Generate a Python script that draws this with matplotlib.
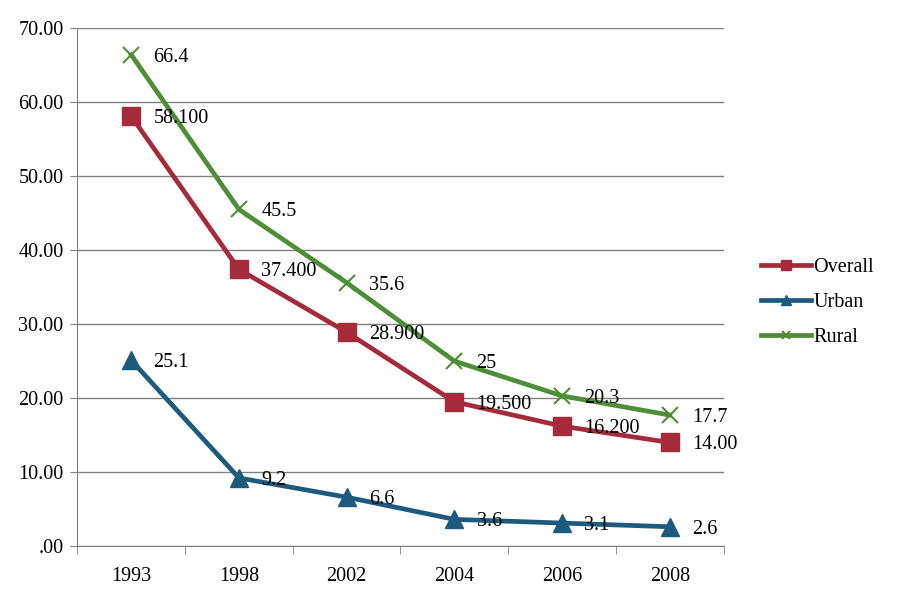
import matplotlib.pyplot as plt

# values
years = ['1993', '1998', '2002', '2004', '2006', '2008']
overall = [58.1, 37.4, 28.9, 19.5, 16.2, 14.0]
urban = [25.1, 9.2, 6.6, 3.6, 3.1, 2.6]
rural = [66.4, 45.5, 35.6, 25.0, 20.3, 17.7]

overall_lbl = ['58.100', '37.400', '28.900', '19.500', '16.200', '14.00']
urban_lbl = ['25.1', '9.2', '6.6', '3.6', '3.1', '2.6']
rural_lbl = ['66.4', '45.5', '35.6', '25', '20.3', '17.7']

plt.rcParams['font.family'] = ['Liberation Serif', 'DejaVu Serif']
FS = 14.5

fig = plt.figure(figsize=(9, 6), dpi=100)
ax = fig.add_axes([0.086, 0.09, 0.718, 0.863])

x = [i + 0.5 for i in range(len(years))]

series = [
    ('Overall', overall, overall_lbl, '#A62B3A', 's', 13),
    ('Urban', urban, urban_lbl, '#1C5B7E', '^', 13),
    ('Rural', rural, rural_lbl, '#4E8E36', 'x', 12),
]
for name, vals, lbls, col, mk, ms in series:
    ax.plot(x, vals, color=col, lw=3.4, marker=mk, ms=ms,
            mew=1.5 if mk == 'x' else 1, label=name)
    for xi, v, t in zip(x, vals, lbls):
        ax.annotate(t, (xi, v), xytext=(16, 0), textcoords='offset points',
                    va='center_baseline', ha='left', fontsize=FS, color='black')

ax.set_xlim(0, 6)
ax.set_ylim(0, 70)
ax.set_yticks(range(0, 71, 10))
ax.set_yticklabels(['.00'] + ['%d.00' % v for v in range(10, 71, 10)])
ax.set_xticks(x)
ax.set_xticklabels(years)
ax.set_xticks(range(0, 7), minor=True)
ax.tick_params(axis='x', which='major', length=0, pad=15, labelsize=FS)
ax.tick_params(axis='x', which='minor', length=6, color='#808080')
ax.tick_params(axis='y', length=5, pad=5, color='#808080', labelsize=FS)

ax.grid(axis='y', color='#808080', lw=1)
ax.set_axisbelow(True)
for s in ['top', 'right']:
    ax.spines[s].set_visible(False)
ax.spines['left'].set_color('#808080')
ax.spines['bottom'].set_color('#808080')

ax.legend(loc='center left', bbox_to_anchor=(1.03, 0.47), frameon=False,
          fontsize=FS, handlelength=2.5, labelspacing=0.8, handletextpad=0.1,
          markerscale=0.5)

fig.savefig('out.png', dpi=100)
